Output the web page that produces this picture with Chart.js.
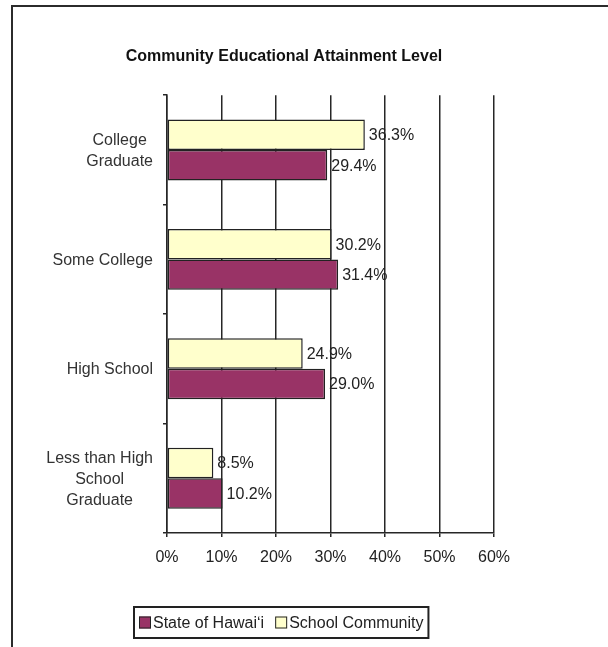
<!DOCTYPE html>
<html>
<head>
<meta charset="utf-8">
<title>Community Educational Attainment Level</title>
<script src="https://cdn.jsdelivr.net/npm/chart.js@4.4.1/dist/chart.umd.min.js"></script>
<style>
    html, body { margin: 0; padding: 0; background: #fff; }
    #wrap { position: relative; width: 608px; height: 647px; overflow: hidden; }
    #frame {
        position: absolute; left: 11px; top: 5px; width: 600px; height: 650px;
        border-top: 2px solid #2b2b2b; border-left: 2px solid #2b2b2b;
        box-sizing: border-box; pointer-events: none;
    }
    canvas { position: absolute; left: 0; top: 0; }
</style>
</head>
<body>
<div id="wrap">
    <canvas id="attainment-chart" width="608" height="647"></canvas>
    <div id="frame"></div>
</div>
<script>
// Education levels, top to bottom
const categories = [
    ['College', 'Graduate'],
    ['Some College'],
    ['High School'],
    ['Less than High', 'School', 'Graduate']
];

// Percent of adults at each level
const schoolCommunity = [36.3, 30.2, 24.9, 8.5];
const stateOfHawaii = [29.4, 31.4, 29.0, 10.2];

const xTicks = [0, 10, 20, 30, 40, 50, 60];

const FONT = '"Liberation Sans", Arial, sans-serif';
const PLUM = '#993366';
const CREAM = '#ffffcc';
const EDGE = '#222';

// Value labels at the end of each bar
const valueLabels = {
    id: 'valueLabels',
    afterDatasetsDraw(chart) {
        const ctx = chart.ctx;
        ctx.save();
        ctx.font = '16px ' + FONT;
        ctx.fillStyle = '#222';
        ctx.textAlign = 'left';
        ctx.textBaseline = 'middle';
        chart.data.datasets.forEach((ds, i) => {
            chart.getDatasetMeta(i).data.forEach((bar, j) => {
                ctx.fillText(ds.data[j].toFixed(1) + '%', bar.x + 4, bar.y + 1);
            });
        });
        ctx.restore();
    }
};

// Category names: block right-aligned to the axis, lines centred inside the block
const categoryLabels = {
    id: 'categoryLabels',
    afterDraw(chart) {
        const ctx = chart.ctx;
        const yScale = chart.scales.y;
        const right = chart.chartArea.left - 14;
        const lineH = 21;
        ctx.save();
        ctx.font = '16px ' + FONT;
        ctx.fillStyle = '#333';
        ctx.textAlign = 'center';
        ctx.textBaseline = 'middle';
        categories.forEach((lines, i) => {
            const w = Math.max(...lines.map(l => ctx.measureText(l).width));
            const cx = right - w / 2;
            const cy = yScale.getPixelForValue(i) + 1;
            lines.forEach((line, k) => {
                ctx.fillText(line, cx, cy + (k - (lines.length - 1) / 2) * lineH);
            });
        });
        ctx.restore();
    }
};

// Boxed legend under the axis
const boxedLegend = {
    id: 'boxedLegend',
    afterDraw(chart) {
        const ctx = chart.ctx;
        const items = [1, 0].map(i => chart.data.datasets[i]);
        const sq = 12, gap = 2, itemGap = 11, pad = 5;
        const top = 607, height = 31, centerX = 281;
        ctx.save();
        ctx.font = '16px ' + FONT;
        const widths = items.map(ds => sq + gap + ctx.measureText(ds.label).width);
        const total = pad * 2 + widths.reduce((a, b) => a + b, 0) + itemGap * (items.length - 1);
        const left = Math.round(centerX - total / 2);
        ctx.strokeStyle = EDGE;
        ctx.lineWidth = 2;
        ctx.strokeRect(left, top, total, height);
        let x = left + pad;
        const midY = top + height / 2;
        items.forEach((ds, i) => {
            ctx.fillStyle = ds.backgroundColor;
            ctx.fillRect(x, midY - sq / 2, sq, sq);
            ctx.lineWidth = 1;
            ctx.strokeStyle = EDGE;
            ctx.strokeRect(x + 0.5, midY - sq / 2 + 0.5, sq - 1, sq - 1);
            ctx.fillStyle = '#222';
            ctx.textAlign = 'left';
            ctx.textBaseline = 'middle';
            ctx.fillText(ds.label, x + sq + gap, midY + 1);
            x += widths[i] + itemGap;
        });
        ctx.restore();
    }
};

new Chart(document.getElementById('attainment-chart'), {
    type: 'bar',
    data: {
        labels: categories,
        datasets: [{
            label: 'School Community',
            data: schoolCommunity,
            backgroundColor: CREAM,
            borderColor: EDGE,
            borderWidth: 1.5,
            borderSkipped: false
        }, {
            label: 'State of Hawaiʻi',
            data: stateOfHawaii,
            backgroundColor: PLUM,
            borderColor: EDGE,
            borderWidth: 1.5,
            borderSkipped: false
        }]
    },
    options: {
        indexAxis: 'y',
        responsive: false,
        animation: false,
        layout: {
            padding: { left: 74, right: 114, top: 0, bottom: 74 }
        },
        datasets: {
            bar: { categoryPercentage: 0.557, barPercentage: 1 }
        },
        plugins: {
            legend: { display: false },
            tooltip: { enabled: false },
            title: {
                display: true,
                text: 'Community Educational Attainment Level',
                color: '#111',
                font: { family: FONT, size: 16, weight: 'bold', lineHeight: 1.2 },
                padding: { top: 47, bottom: 29 }
            }
        },
        scales: {
            x: {
                min: 0,
                max: 60,
                afterBuildTicks(scale) {
                    scale.ticks = xTicks.map(v => ({ value: v }));
                },
                afterFit(scale) { scale.height = 40; },
                ticks: {
                    color: '#222',
                    padding: 11,
                    maxRotation: 0,
                    font: { family: FONT, size: 16 },
                    callback: v => v + '%'
                },
                grid: {
                    color: '#262626',
                    lineWidth: 1.5,
                    tickLength: 4
                },
                border: { display: true, color: '#262626', width: 1.5 }
            },
            y: {
                afterFit(scale) { scale.width = 93; },
                ticks: { display: false },
                grid: {
                    offset: true,
                    drawOnChartArea: false,
                    color: '#262626',
                    lineWidth: 1.5,
                    tickLength: 4
                },
                border: { display: true, color: '#262626', width: 1.5 }
            }
        }
    },
    plugins: [valueLabels, categoryLabels, boxedLegend]
});
</script>
</body>
</html>
